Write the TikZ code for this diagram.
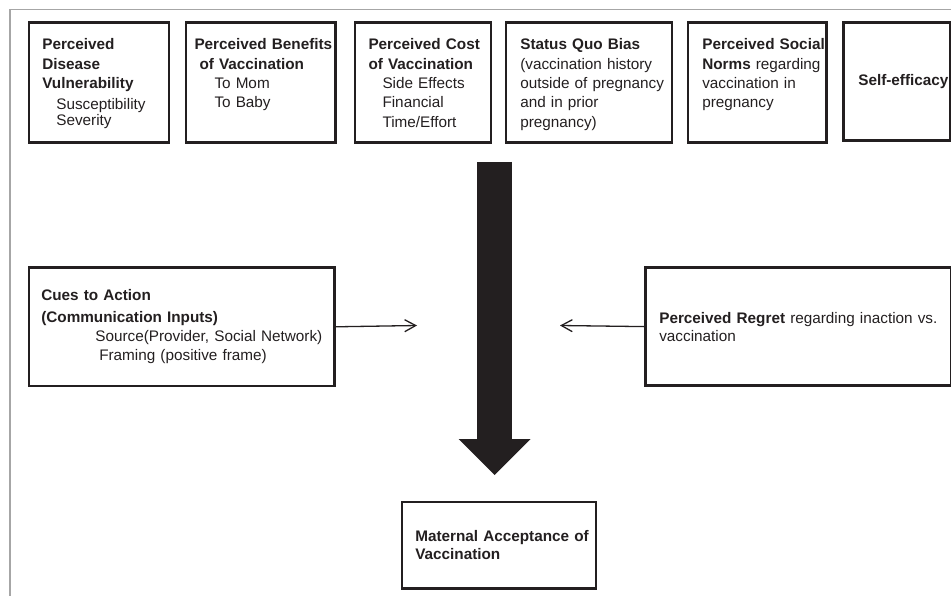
\documentclass[tikz,border=0pt]{standalone}
\usepackage{fontspec}
\setmainfont{Liberation Sans}
\usetikzlibrary{arrows.meta,positioning}
\definecolor{ink}{HTML}{231F20}

\begin{document}
\begin{tikzpicture}[x=1pt,y=-1pt,
    font=\fontsize{15.3}{19.4}\selectfont, text=ink,
    factor/.style={draw=ink, line width=2.6pt, anchor=north west, inner xsep=13.5pt, align=left},
    topfactor/.style={factor, inner ysep=16pt, text height=11pt, text depth=77pt},
    cue/.style={draw=ink, line width=1.3pt, -{Straight Barb[length=11pt,width=12pt]}},
    bigflow/.style={draw=ink, line width=35pt, -{Triangle[width=72pt,length=36pt,line width=0pt]}}]
  \def\ind{\hspace*{14pt}}
  \useasboundingbox (0,0) rectangle (951,596);
  \draw[black!35, line width=1.5pt] (10,596) -- (10,9.5) -- (951,9.5);
  % top row
  \node[topfactor, text width=113pt] (vuln) at (27.5,21.5)
    {\textbf{Perceived}\\\textbf{Disease}\\\textbf{Vulnerability}\\[1.5pt]\ind Susceptibility\\[-3.5pt]\ind Severity};
  \node[topfactor, inner xsep=8.5pt, text width=132.3pt] (benefit) at (184.7,21.5)
    {\mbox{\textbf{Perceived Benefits}}\\\hspace*{5pt}\textbf{of Vaccination}\\\hspace*{20pt}To Mom\\\hspace*{20pt}To Baby};
  \node[topfactor, text width=109pt] (cost) at (353.7,21.5)
    {\mbox{\textbf{Perceived Cost}}\\\textbf{of Vaccination}\\\ind Side Effects\\\ind Financial\\\ind Time/Effort};
  \node[topfactor, inner xsep=14.3pt, text width=137.4pt] (bias) at (504.7,21.5)
    {\textbf{Status Quo Bias}\\(vaccination history\\\mbox{outside of pregnancy}\\and in prior\\pregnancy)};
  \node[topfactor, inner xsep=14.3pt, text width=110pt] (norms) at (686.7,21.5)
    {\mbox{\textbf{Perceived Social}}\\\mbox{\textbf{Norms} regarding}\\vaccination in\\pregnancy};
  \node[factor, inner xsep=14.7pt, text width=77.6pt, minimum height=118pt] (efficacy) at (842.3,21.3)
    {\mbox{\textbf{Self-efficacy}}};
  % middle row
  \node[factor, inner xsep=12.5pt, text width=280.5pt, minimum height=118.4pt] (cues) at (27.5,266.3)
    {\textbf{Cues to Action}\\[2pt]\textbf{(Communication Inputs)}\\\hspace*{54pt}\mbox{Source(Provider, Social Network)}\\\hspace*{58pt}Framing (positive frame)};
  \node[factor, inner xsep=14pt, text width=277.7pt, minimum height=118pt] (regret) at (644,266.3)
    {\mbox{\textbf{Perceived Regret} regarding inaction vs.}\\[-1.4pt]vaccination};
  % outcome
  \node[factor, inner xsep=13.3pt, text width=167.4pt, minimum height=86.3pt] (accept) at (400.7,500.7)
    {\mbox{\textbf{Maternal Acceptance of}}\\[-1.8pt]\textbf{Vaccination}};
  \coordinate (flowtop) at (494.5,162);
  \coordinate (flowtip) at (494.5,475);
  \coordinate (cuestip) at (417,325.5);
  \coordinate (regrettip) at (560,325.5);
  \draw[bigflow] (flowtop) -- (flowtip);
  \draw[cue] (cues.east) -- (cuestip);
  \draw[cue] (regret.west) -- (regrettip);
\end{tikzpicture}
\end{document}
